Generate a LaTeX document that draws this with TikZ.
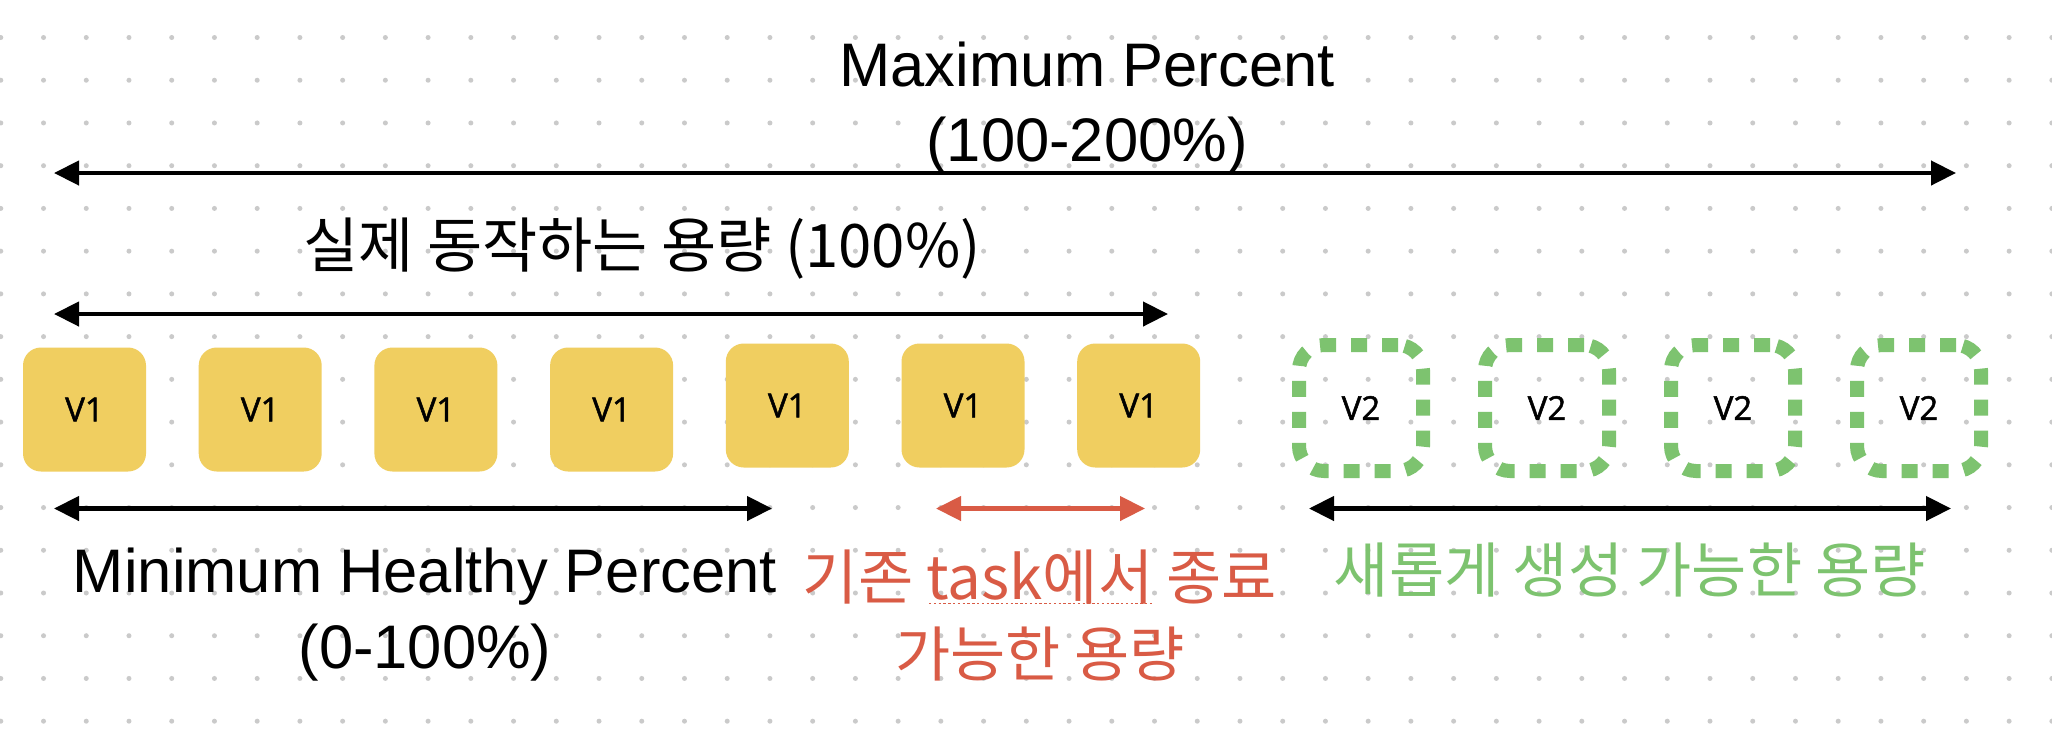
\documentclass[tikz,border=0pt]{standalone}
\usepackage{fontspec}
\setmainfont{Liberation Sans}
\newfontfamily\krfont{Noto Sans CJK KR}
\newfontfamily\taskfont[FakeBold=1.5]{Open Sans}
\usetikzlibrary{arrows.meta,positioning}

\definecolor{taskyellow}{HTML}{F0CE60}
\definecolor{newgreen}{HTML}{7DC36F}
\definecolor{stopred}{HTML}{D95B45}
\definecolor{griddot}{HTML}{CACACA}

\begin{document}
\begin{tikzpicture}[x=0.5pt,y=-0.5pt,>={Triangle[length=12.5pt,width=12pt]},
		old/.style={rectangle, rounded corners=9pt, fill=taskyellow, inner sep=0pt,
			minimum width=61.5pt, minimum height=62pt, font=\taskfont\fontsize{16.5}{18}\selectfont},
		new/.style={rectangle, rounded corners=12.5pt, draw=newgreen, line width=7pt,
			dash pattern=on 8pt off 7.5pt, inner sep=0pt,
			minimum width=62pt, minimum height=63pt, font=\taskfont\fontsize{16.5}{18}\selectfont},
		caption/.style={align=center, anchor=base, font=\fontsize{30.75}{37.85}\selectfont},
		kcaption/.style={align=center, anchor=base, font=\krfont\fontsize{30}{38.5}\selectfont},
		span/.style={<->, line width=2.2pt}]

		\fill[white] (0,0) rectangle (2052,746);
		\useasboundingbox (0,0) rectangle (2052,746);
		\foreach \i in {0,...,48}
			\foreach \j in {0,...,16}
				\fill[griddot] (0.8+42.73*\i, 37.5+42.73*\j) circle (1.25pt);

		% two-line captions sit on the baseline of their last line
		\node[caption] (maxtxt) at (1087,161.7) {Maximum Percent\\(100-200\%)};
		\node[kcaption] (runtxt) at (642,267) {실제 동작하는 용량 (100\%)};

		\node[old] (V11) at (84.5,409.5) {V1};
		\node[old] (V12) [right of=V11, node distance=87.85pt] {V1};
		\node[old] (V13) [right of=V12, node distance=87.85pt] {V1};
		\node[old] (V14) [right of=V13, node distance=87.85pt] {V1};
		\node[old] (V15) [right of=V14, node distance=87.85pt, yshift=2pt] {V1};
		\node[old] (V16) [right of=V15, node distance=87.85pt] {V1};
		\node[old] (V17) [right of=V16, node distance=87.85pt] {V1};

		\node[new] (V21) at (1361,408) {V2};
		\node[new] (V22) [right of=V21, node distance=93pt] {V2};
		\node[new] (V23) [right of=V22, node distance=93pt] {V2};
		\node[new] (V24) [right of=V23, node distance=93pt] {V2};

		\node[caption] (mintxt) at (425,668) {Minimum Healthy Percent\\(0-100\%)};
		\node[kcaption, text=stopred] (stoptxt) at (1040,676) {기존 task에서 종료\\가능한 용량};
		\node[kcaption, text=newgreen] (newtxt) at (1630,592) {새롭게 생성 가능한 용량};
		\draw[stopred, line width=0.9pt, dash pattern=on 1.2pt off 1.2pt] (929,603.5) -- (1152,603.5);

		\coordinate (maxL) at (54,173);   \coordinate (maxR) at (1956,173);
		\coordinate (runL) at (54,314);   \coordinate (runR) at (1168,314);
		\coordinate (minL) at (54,508.5); \coordinate (minR) at (772,508.5);
		\coordinate (stopL) at (936,508.5); \coordinate (stopR) at (1145,508.5);
		\coordinate (newL) at (1309,508.5); \coordinate (newR) at (1951,508.5);

		\draw[span] (maxL) -- (maxR);
		\draw[span] (runL) -- (runR);
		\draw[span] (minL) -- (minR);
		\draw[span, stopred] (stopL) -- (stopR);
		\draw[span] (newL) -- (newR);

	\end{tikzpicture}
\end{document}
